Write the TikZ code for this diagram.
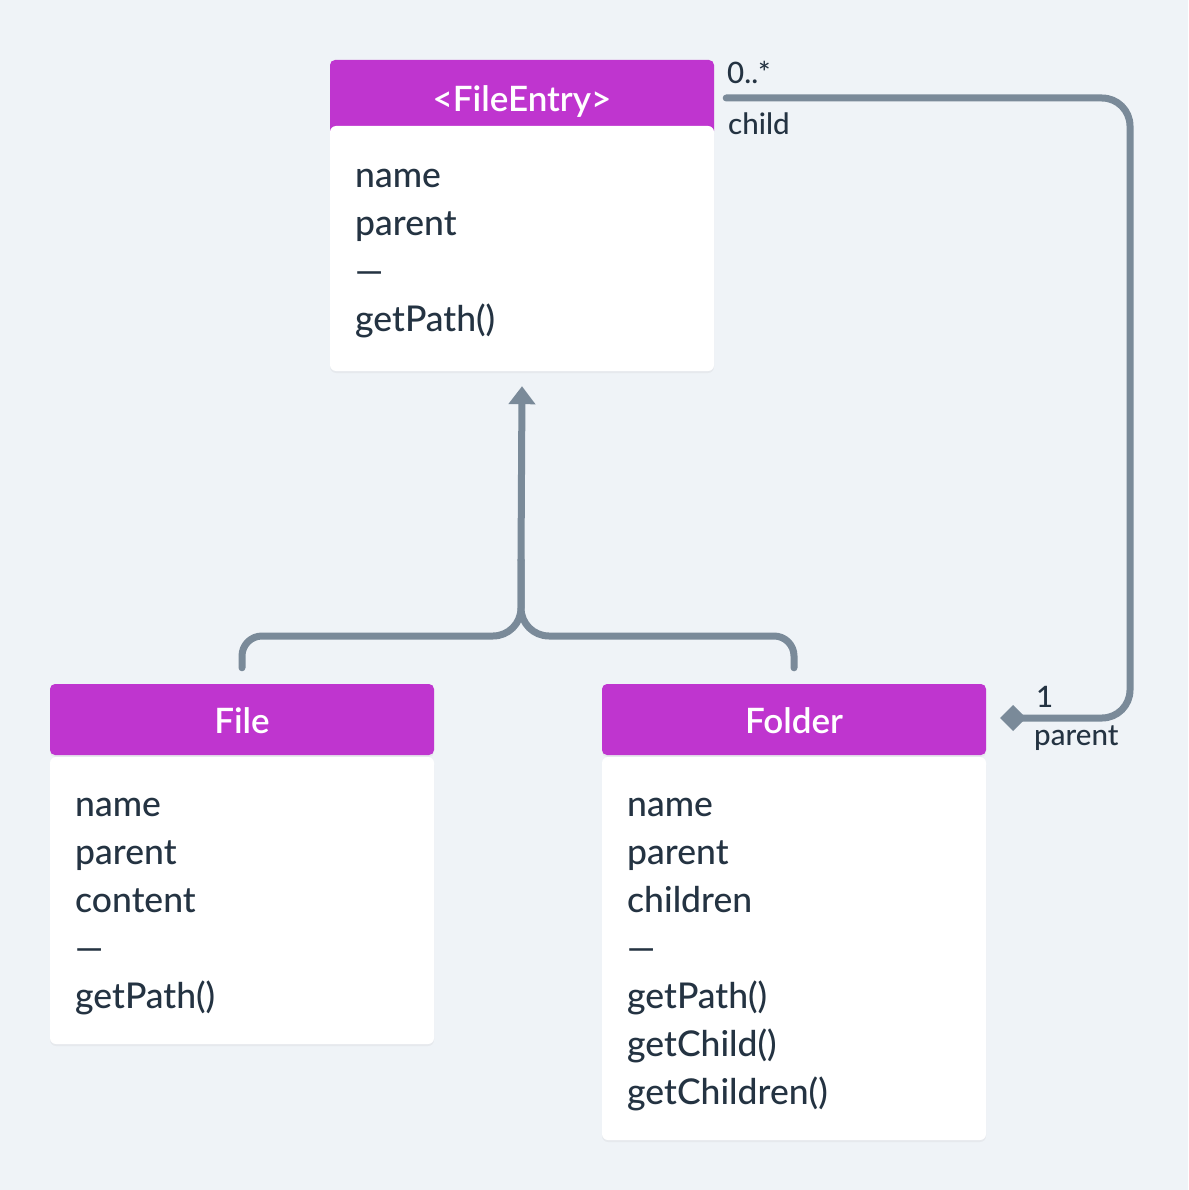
\documentclass[tikz,border=0pt]{standalone}
\usepackage{fontspec}
\setmainfont{Lato Medium}
\newfontfamily\medfont{Lato Semibold}
\usetikzlibrary{arrows.meta,shadows}
\definecolor{bg}{HTML}{EFF3F7}
\definecolor{hdrc}{HTML}{BF35CF}
\definecolor{connc}{HTML}{7A8A99}
\definecolor{txtc}{HTML}{243342}
\tikzset{
  hdr/.style={fill=hdrc, rounded corners=5pt, minimum width=384pt, text=white, font=\medfont\fontsize{35}{42}\selectfont, inner sep=0pt,
    text height=31pt, text depth=4pt,
    drop shadow={opacity=0.08, shadow xshift=0pt, shadow yshift=-2pt}},
  bodybox/.style={fill=white, rounded corners=6pt, minimum width=384pt, inner sep=0pt,
    drop shadow={opacity=0.08, shadow xshift=0pt, shadow yshift=-2pt}},
  attr/.style={anchor=base west, text=txtc, font=\fontsize{35.5}{42}\selectfont, inner sep=0pt},
  lbl/.style={anchor=west, text=txtc, font=\fontsize{29.5}{34}\selectfont, inner sep=0pt},
  conn/.style={draw=connc, line width=7pt, line cap=round, line join=round},
}
\begin{document}
\begin{tikzpicture}[x=1pt,y=-1pt]
\path[fill=bg] (0,0) rectangle (1188,1190);
\useasboundingbox (0,0) rectangle (1188,1190);

% FileEntry
\node[hdr, minimum height=76pt] (feh) at (522,98) {<FileEntry>};
\node[bodybox, minimum height=245pt] (feb) at (522,248.5) {};
\foreach \t [count=\i] in {name,parent,—,getPath()}
  \node[attr] (fet\i) at (355,187.5+48*\i-48) {\t};

% File
\node[hdr, minimum height=71pt] (fh) at (242,719.5) {File};
\node[bodybox, minimum height=287pt] (fb) at (242,900.5) {};
\foreach \t [count=\i] in {name,parent,content,—,getPath()}
  \node[attr] (ft\i) at (75,816.5+48*\i-48) {\t};

% Folder
\node[hdr, minimum height=71pt] (foh) at (794,719.5) {Folder};
\node[bodybox, minimum height=383pt] (fob) at (794,948.5) {};
\foreach \t [count=\i] in {name,parent,children,—,getPath(),getChild(),getChildren()}
  \node[attr] (fot\i) at (627,816.5+48*\i-48) {\t};

% inheritance
\coordinate (fork) at (521,636);
\coordinate (up) at (521,560);
\coordinate (tip) at ([yshift=-15pt]feb.south);
\coordinate (fileTop) at ([yshift=16pt]fh.north);
\coordinate (folderTop) at ([yshift=16pt]foh.north);
\draw[conn] (fileTop) [rounded corners=20pt] -- (fileTop |- fork) [rounded corners=28pt] -- (fork) -- (up);
\draw[conn] (folderTop) [rounded corners=20pt] -- (folderTop |- fork) [rounded corners=28pt] -- (fork) -- (up);
\draw[conn, -{Triangle[width=26pt,length=18pt]}] (up) -- (tip);

% composition
\coordinate (cs) at ([xshift=12pt]feh.east);
\coordinate (ce) at ([xshift=14pt,yshift=1.5pt]foh.east);
\coordinate (rail) at (1130,0);
\draw[conn, rounded corners=28pt, -{Diamond[width=26pt,length=26pt]}] (cs) -- (cs -| rail) -- (rail |- ce) -- (ce);

\node[lbl] (l0) at (727,72) {0..*};
\node[lbl] (l1) at (728,124) {child};
\node[lbl] (l2) at (1036,697) {1};
\node[lbl] (l3) at (1034,738) {parent};
\end{tikzpicture}
\end{document}
